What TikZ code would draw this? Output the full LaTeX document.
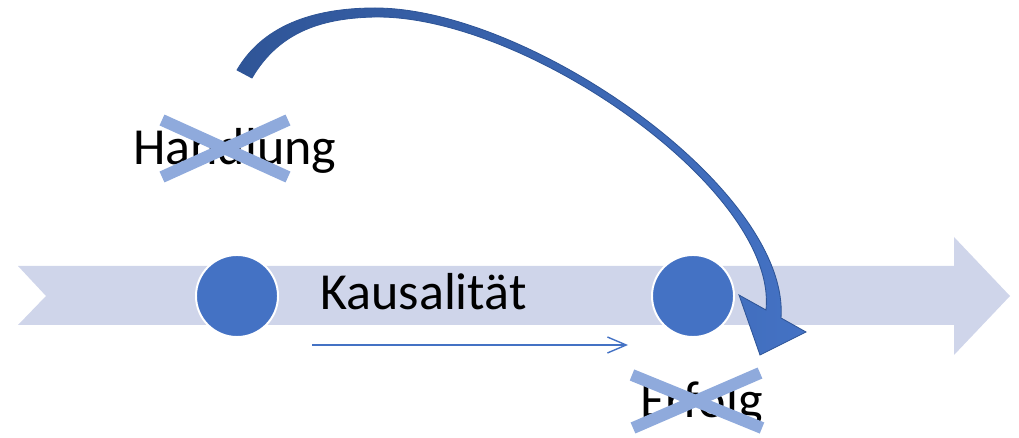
\documentclass[tikz,border=0pt]{standalone}
\usepackage{fontspec}
\setmainfont{Carlito}
\usetikzlibrary{positioning,arrows.meta}
\definecolor{bandblue}{RGB}{207,213,234}
\definecolor{dotblue}{RGB}{68,114,196}
\definecolor{darkblue}{RGB}{47,85,151}
\definecolor{crossblue}{RGB}{143,170,220}

\begin{document}
\begin{tikzpicture}[
  x=0.025cm, y=-0.025cm, >=Latex,
  word/.style={anchor=base west, inner sep=0pt, font=\fontsize{37}{44}\selectfont},
  dot/.style={circle, fill=dotblue, draw=white, line width=1.4pt, minimum size=2.05cm, inner sep=0pt},
  strike/.style={crossblue, line width=8.5pt},
  band/.style={fill=bandblue},
]
  \useasboundingbox (0,0) rectangle (1019,438);
  % time line
  \fill[band] (18,266) -- (954,266) -- (954,237) -- (1010,296) -- (954,355)
    -- (954,325) -- (18,325) -- (46,296) -- cycle;
  \node[dot] (cause) at (237,296) {};
  \node[dot] (effect) at (693,296) {};
  \node[word] (kaus) at (320,310) {Kausalität};
  \coordinate (ka) at (312,345);
  \coordinate (kb) at (628,345);
  \draw[dotblue, line width=1pt, -{Straight Barb[length=4.7mm,width=4mm]}] (ka) -- (kb);
  % curved arrow
  \shade[left color=darkblue, right color=dotblue, draw=darkblue, line width=0.6pt]
    (237,70) .. controls (265,22) and (320,8) .. (375,8)
    .. controls (530,8) and (790,190) .. (781,318)
    -- (806,332) -- (760,355) -- (739,295) -- (766,310)
    .. controls (778,190) and (525,15) .. (375,17)
    .. controls (325,18) and (280,30) .. (252,78) -- cycle;
  % crossed out labels
  \node[word] (hand) at (133,165) {Handlung};
  \draw[strike] (162,120) -- (288,177);
  \draw[strike] (288,120) -- (162,177);
  \node[word] (erf) at (640,418) {Erfolg};
  \draw[strike] (632,375) -- (762,428);
  \draw[strike] (760,373) -- (633,428);
\end{tikzpicture}
\end{document}
